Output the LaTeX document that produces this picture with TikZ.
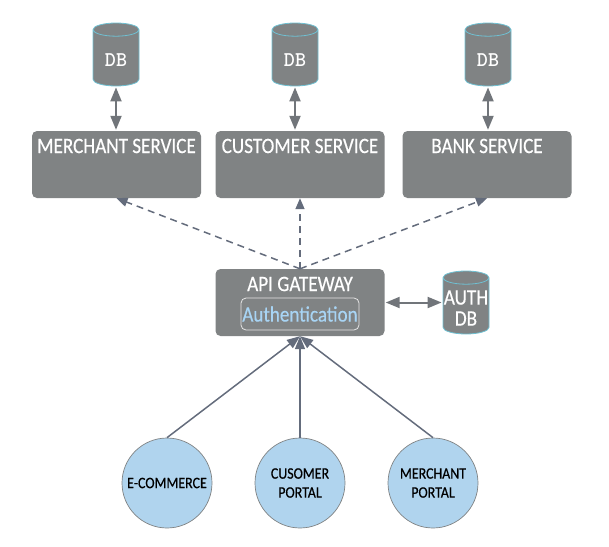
\documentclass[tikz,border=0pt]{standalone}
\usepackage{fontspec}
\setmainfont{Carlito}
\newfontfamily\labelfont[FakeStretch=0.87,FakeBold=0.4]{Carlito}
\usetikzlibrary{arrows.meta,shapes.geometric}
\definecolor{boxgray}{HTML}{808384}
\definecolor{arrowgray}{HTML}{71757A}
\definecolor{slate}{HTML}{646C7C}
\definecolor{portalblue}{HTML}{B0D4EE}
\definecolor{authblue}{HTML}{A8D4F4}
\definecolor{dbrim}{HTML}{6FC0D2}
\tikzset{
  servicebox/.style={draw=none,fill=boxgray,rounded corners=5pt,minimum width=169pt,minimum height=67pt,inner sep=0pt},
  boxlabel/.style={text=white,font=\labelfont\fontsize{22}{22}\selectfont,inner sep=0pt},
  authbox/.style={draw=white!80!boxgray,line width=0.8pt,rounded corners=5pt,minimum width=118pt,minimum height=32pt,inner sep=0pt,text=authblue,font=\labelfont\fontsize{22}{22}\selectfont},
  dbshape/.style={cylinder,shape border rotate=90,aspect=0.55,draw=dbrim,line width=0.8pt,fill=boxgray,minimum width=46pt,inner sep=0pt},
  dblabel/.style={text=white,inner sep=0pt,font=\ttfamily\bfseries\fontsize{21}{21}\selectfont},
  authdblabel/.style={text=white,inner sep=0pt,align=center,font=\labelfont\fontsize{22}{21}\selectfont},
  portal/.style={circle,draw=boxgray,line width=0.7pt,fill=portalblue,minimum size=90pt,inner sep=0pt,align=center,font=\labelfont\fontsize{16}{19}\selectfont},
  twoway/.style={{Triangle[width=11pt,length=14pt]}-{Triangle[width=11pt,length=14pt]},color=arrowgray,line width=2pt,shorten >=1pt,shorten <=1pt},
  dashedway/.style={-{Triangle[width=9pt,length=11pt]},color=slate,line width=1.5pt,dash pattern=on 7pt off 5pt},
  solidway/.style={-{Triangle[width=10pt,length=13pt]},color=slate,line width=1.5pt}
}
\def\dbnode{\node[dbshape,minimum height=63pt]}
\def\dbfill{\rule{24pt}{0pt}}
\def\servicenode{\node[servicebox]}
\begin{document}
\begin{tikzpicture}[x=1pt,y=-1pt]
\useasboundingbox (0,0) rectangle (609,546);
\dbnode (dbmerchant) at (116,58) {\dbfill};
\dbnode (dbcustomer) at (295,58) {\dbfill};
\dbnode (dbbank) at (488,58) {\dbfill};
\node[dblabel] at (116,60) {DB};
\node[dblabel] at (295,60) {DB};
\node[dblabel] at (488,60) {DB};
\servicenode (merchant) at (116.5,164.5) {};
\servicenode (customer) at (300,164.5) {};
\servicenode (bank) at (487,164.5) {};
\node[boxlabel] at (116.5,146) {MERCHANT SERVICE};
\node[boxlabel] at (300,146) {CUSTOMER SERVICE};
\node[boxlabel] at (487,146) {BANK SERVICE};
\servicenode (gateway) at (300,302.5) {};
\node[boxlabel] at (300,284) {API GATEWAY};
\node[authbox] (auth) at (300,314) {Authentication};
\dbnode (authdb) at (466,306) {\dbfill};
\node[authdblabel] at (466,308) {AUTH\\DB};
\node[portal] (ecommerce) at (167,483) {E-COMMERCE};
\node[portal] (cusomer) at (300,483) {CUSOMER\\PORTAL};
\node[portal] (mportal) at (433,483) {MERCHANT\\PORTAL};
% arrows
\draw[twoway] (dbmerchant) -- (dbmerchant |- merchant.north);
\draw[twoway] (dbcustomer) -- (dbcustomer |- customer.north);
\draw[twoway] (dbbank) -- (dbbank |- bank.north);
\draw[twoway] (gateway) -- (authdb.west |- gateway);
\draw[dashedway] (gateway.north) -- (merchant.south);
\draw[dashedway] (gateway.north) -- (customer.south);
\draw[dashedway] (gateway.north) -- (bank.south);
\draw[solidway] (ecommerce.north) -- (gateway.south);
\draw[solidway] (cusomer.north) -- (gateway.south);
\draw[solidway] (mportal.north) -- (gateway.south);
\end{tikzpicture}
\end{document}
